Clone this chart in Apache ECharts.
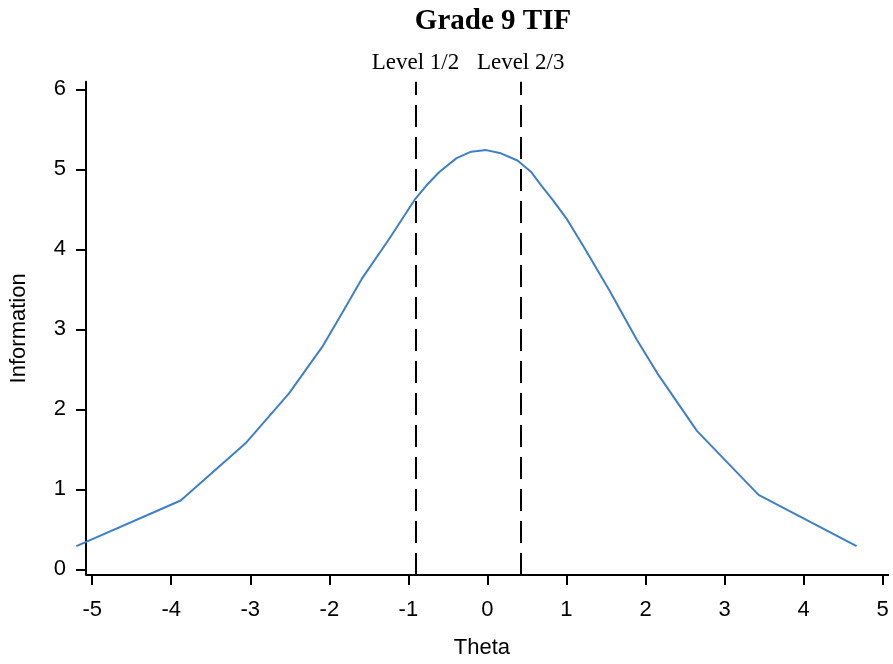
<!DOCTYPE html>
<html>
<head>
<meta charset="utf-8">
<script src="https://cdn.jsdelivr.net/npm/echarts@6/dist/echarts.min.js"></script>
<style>html,body{margin:0;padding:0;background:#fff}#c{width:893px;height:664px}</style>
</head>
<body>
<div id="c"></div>
<script>
const theta = [-5.2, -3.88, -3.06, -2.51, -2.09, -1.84, -1.59, -1.25, -0.92, -0.77, -0.605, -0.39, -0.205, -0.016, 0.17, 0.38, 0.55, 0.68, 0.84, 1.01, 1.22, 1.54, 1.89, 2.15, 2.65, 3.43, 4.67];
const information = [0.29, 0.86, 1.575, 2.20, 2.78, 3.20, 3.63, 4.12, 4.62, 4.80, 4.97, 5.14, 5.22, 5.24, 5.20, 5.11, 4.97, 4.80, 4.60, 4.37, 4.03, 3.49, 2.87, 2.45, 1.73, 0.93, 0.29];
const cutNames = ['Level 1/2', 'Level 2/3'];
const cutValues = [-0.91, 0.42];
const xTicks = [-5, -4, -3, -2, -1, 0, 1, 2, 3, 4, 5];
const yTicks = [0, 1, 2, 3, 4, 5, 6];

const X_MIN = -5.22, X_MAX = 5.08, X_AXIS_START = -5.079;
const Y_MIN = -0.071, Y_MAX = 6.095;

const chart = echarts.init(document.getElementById('c'));
const sans = 'Liberation Sans';
const serif = 'Liberation Serif';

const mlData = cutValues.map((v, i) => ({ name: cutNames[i], xAxis: v }));
mlData.push([
  { coord: [X_AXIS_START, Y_MIN], lineStyle: { type: 'solid', color: '#000', width: 2 }, label: { show: false } },
  { coord: [X_MAX, Y_MIN] }
]);

chart.setOption({
  animation: false,
  backgroundColor: '#fff',
  title: {
    text: 'Grade 9 TIF',
    left: 488, top: 2, textAlign: 'center',
    textStyle: { fontFamily: serif, fontWeight: 'bold', fontSize: 29, color: '#000' }
  },
  grid: { left: 70.3, right: 4, top: 81.7, bottom: 89 },
  xAxis: {
    type: 'value', min: X_MIN, max: X_MAX,
    name: 'Theta', nameLocation: 'middle', nameGap: 62,
    nameTextStyle: { fontFamily: sans, fontSize: 22, color: '#000' },
    axisLine: { show: false, onZero: false },
    axisTick: { show: true, length: 10, lineStyle: { color: '#000', width: 2 }, customValues: xTicks },
    axisLabel: { fontFamily: sans, fontSize: 22, color: '#000', margin: 24, customValues: xTicks },
    splitLine: { show: false }
  },
  yAxis: {
    type: 'value', min: Y_MIN, max: Y_MAX, offset: -11.2,
    name: 'Information', nameLocation: 'middle', nameGap: 56, nameRotate: 90,
    nameTextStyle: { fontFamily: sans, fontSize: 22, color: '#000' },
    axisLine: { show: true, onZero: false, lineStyle: { color: '#000', width: 2 } },
    axisTick: { show: true, length: 10, lineStyle: { color: '#000', width: 2 }, customValues: yTicks },
    axisLabel: { fontFamily: sans, fontSize: 22, color: '#000', margin: 20, customValues: yTicks },
    splitLine: { show: false }
  },
  series: [{
    type: 'line',
    data: theta.map((t, i) => [t, information[i]]),
    showSymbol: false, symbol: 'none', clip: false,
    lineStyle: { color: '#3e7fc8', width: 2 },
    markLine: {
      silent: true, symbol: 'none', animation: false,
      lineStyle: { color: '#000', width: 2, type: [22, 10] },
      label: { show: true, position: 'end', distance: 7, formatter: p => p.name,
        fontFamily: serif, fontSize: 23, color: '#000' },
      data: mlData
    }
  }]
});
</script>
</body>
</html>
